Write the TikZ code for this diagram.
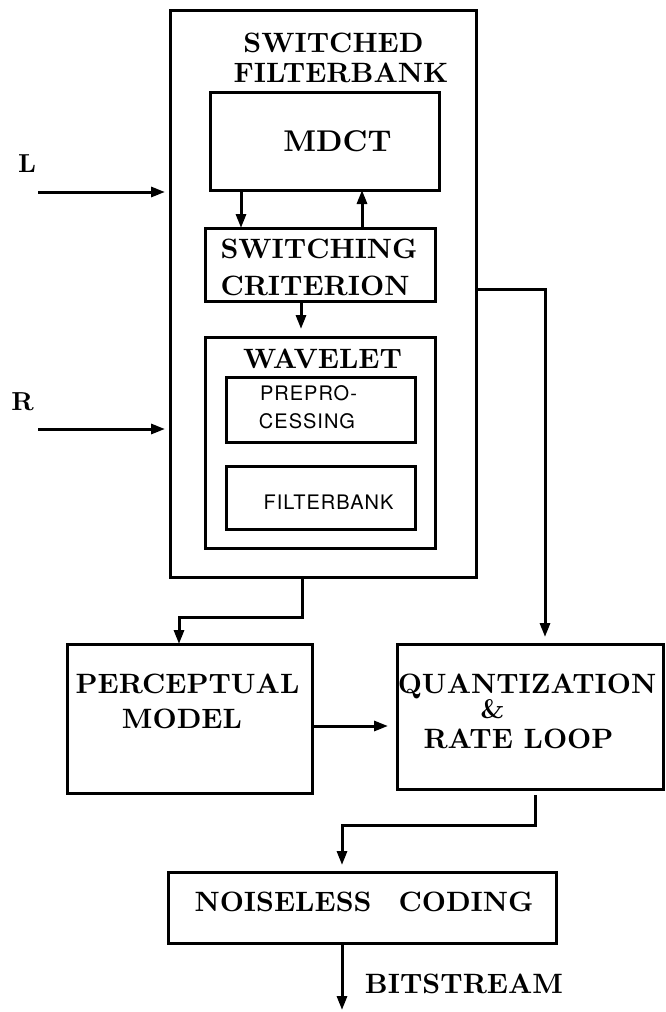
\documentclass[tikz,border=0pt]{standalone}
\usepackage{fontspec}
\setsansfont{TeX Gyre Heros}[LetterSpace=5]
\newfontfamily\bxf{lmroman10-bold.otf}
\usetikzlibrary{arrows.meta}
\begin{document}
\begin{tikzpicture}[x=1pt,y=-1pt,
  box/.style={draw,line width=3pt,inner sep=0pt,outer sep=0pt},
  arr/.style={line width=3pt,-{Triangle[length=14pt,width=10pt]}},
  bt/.style={font=\bxf\fontsize{28}{30}\selectfont,inner sep=0pt,anchor=base},
  st/.style={font=\sffamily\fontsize{20}{22}\selectfont,inner sep=0pt,anchor=base}]
\useasboundingbox (0,0) rectangle (665,1012);

% boxes
\node[box,minimum width=306pt,minimum height=567pt] (outer) at (323,293.5) {};
\node[box,minimum width=229pt,minimum height=98pt] (mdct) at (324.5,141) {};
\node[box,minimum width=230pt,minimum height=73pt] (switch) at (320,264.5) {};
\node[box,minimum width=230pt,minimum height=211pt] (wavelet) at (320,442.5) {};
\node[box,minimum width=189pt,minimum height=65pt] (prepro) at (320.5,409.5) {};
\node[box,minimum width=189pt,minimum height=63pt] (fbank) at (320.5,497.5) {};
\node[box,minimum width=245pt,minimum height=149pt] (percep) at (189.5,718.5) {};
\node[box,minimum width=266pt,minimum height=145pt] (quant) at (530,716.5) {};
\node[box,minimum width=388pt,minimum height=71pt] (noise) at (362,907.5) {};

% texts
\node[bt] (tsw) at (333.5,52) {SWITCHED};
\node[bt] (tfb) at (341,82.5) {FILTERBANK};
\node[bt,font=\bxf\fontsize{30}{32}\selectfont] (tmdct) at (337.5,151.5) {MDCT};
\node[bt] (tswi) at (319,258) {SWITCHING};
\node[bt] (tcri) at (315,295) {CRITERION};
\node[bt] (twav) at (322.5,368) {WAVELET};
\node[st] (tpre) at (308.5,400) {PREPRO-};
\node[st] (tces) at (307,428) {CESSING};
\node[st] (tfil) at (328.5,509) {FILTERBANK};
\node[bt] (tper) at (187.5,693) {PERCEPTUAL};
\node[bt] (tmod) at (182,728) {MODEL};
\node[bt] (tqua) at (527,693) {QUANTIZATION};
\node[bt,font=\bxf\fontsize{27}{29}\selectfont] (tamp) at (492.5,718) {\&};
\node[bt] (trat) at (518.5,748) {RATE LOOP};
\node[bt] (tnoi) at (364,911) {NOISELESS\hspace{27pt}CODING};
\node[bt] (tbit) at (464,993) {BITSTREAM};
\node[bt,font=\bxf\fontsize{26}{28}\selectfont] (tl) at (27,172) {L};
\node[bt,font=\bxf\fontsize{26}{28}\selectfont] (tr) at (22.5,410) {R};

% helper coordinates
\coordinate (lin) at (38,192);
\coordinate (rin) at (38,429);
\coordinate (cdn) at (241,0);
\coordinate (cup) at (362,0);
\coordinate (cwv) at (301,0);
\coordinate (qx) at (545,0);
\coordinate (j1) at (302,617);
\coordinate (j2) at (179,617);
\coordinate (pq) at (0,726);
\coordinate (k1) at (535,825);
\coordinate (k2) at (342,825);
\coordinate (bout) at (342,1010);

% connectors
\draw[arr,shorten >=5pt] (lin) -- (lin -| outer.west);
\draw[arr,shorten >=5pt] (rin) -- (rin -| outer.west);
\draw[arr] (mdct.south -| cdn) -- (switch.north -| cdn);
\draw[arr] (switch.north -| cup) -- (mdct.south -| cup);
\draw[arr,shorten >=8pt] (switch.south -| cwv) -- (wavelet.north -| cwv);
\draw[arr,shorten >=7pt] (outer.east |- 0,289) -| (quant.north -| qx);
\draw[arr] (outer.south -| j1) -- (j1) -- (j2) -- (percep.north -| j2);
\draw[arr,shorten >=9pt] (percep.east |- pq) -- (quant.west |- pq);
\draw[arr,shorten <=6pt,shorten >=7pt] (quant.south -| k1) -- (k1) -- (k2) -- (noise.north -| k2);
\draw[arr] (noise.south -| bout) -- (bout);
\end{tikzpicture}
\end{document}
